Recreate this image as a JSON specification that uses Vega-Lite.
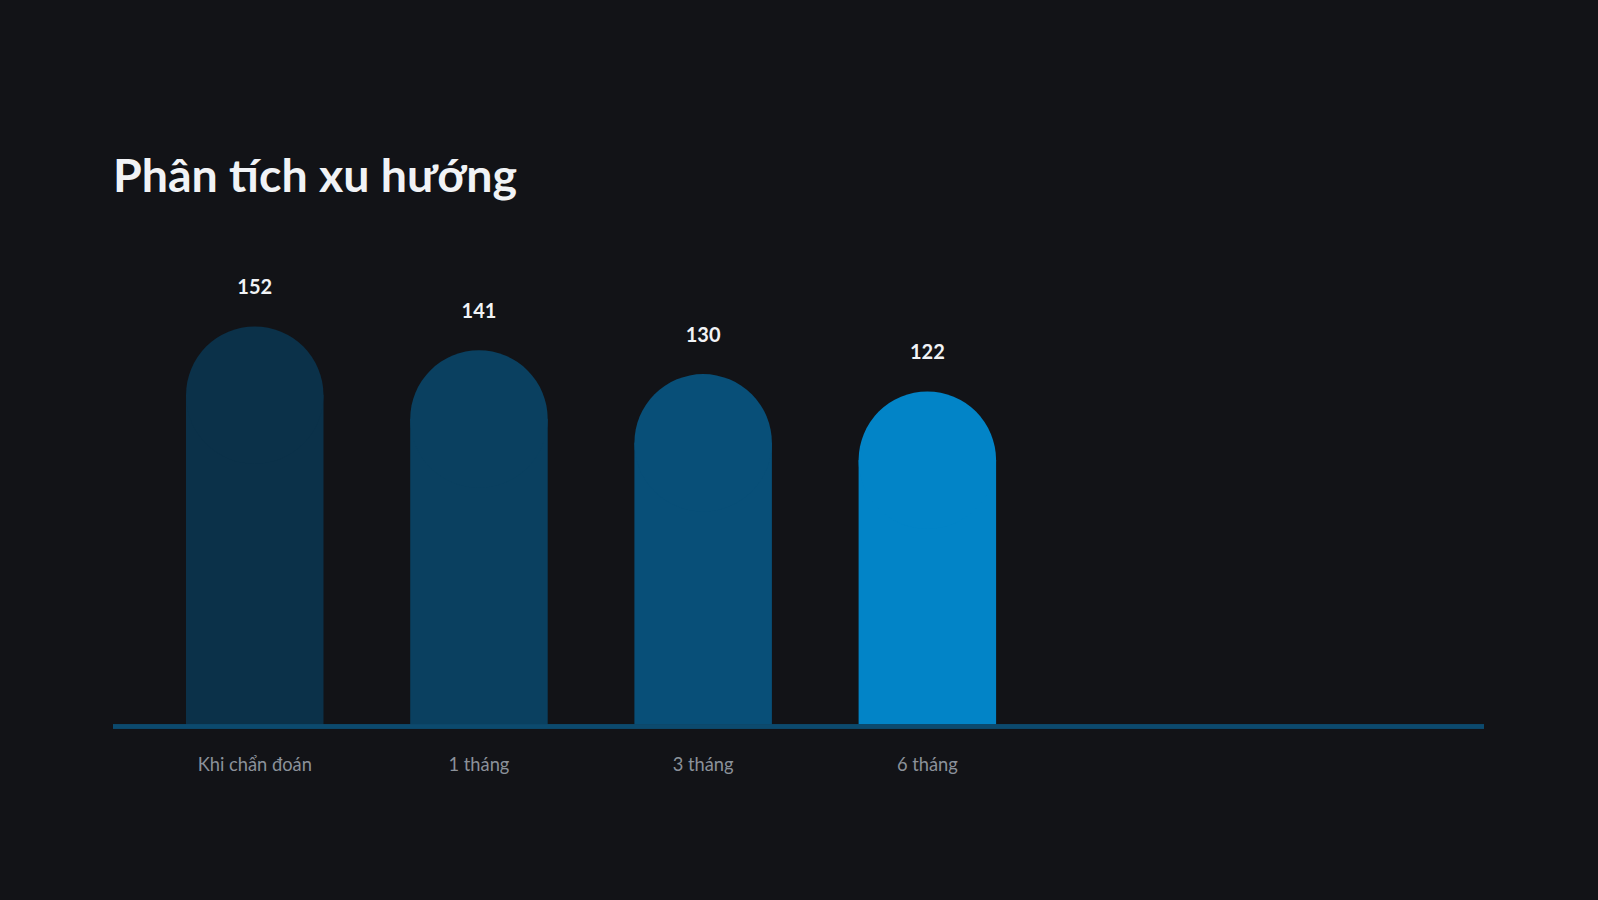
{
  "$schema": "https://vega.github.io/schema/vega-lite/v6.json",
  "autosize": {"type": "none"},
  "padding": {"left": 113, "top": 291.2, "right": 114, "bottom": 175.5},
  "width": 1371,
  "height": 433.3,
  "background": "#121317",
  "title": {
    "text": "Phân tích xu hướng",
    "anchor": "start",
    "frame": "group",
    "baseline": "alphabetic",
    "offset": 39.9,
    "font": "Lato",
    "fontSize": 46.5,
    "fontWeight": "bold",
    "color": "#f1f3f6"
  },
  "data": {
    "values": [
      {"moc": "Khi chẩn đoán", "giatri": 152},
      {"moc": "1 tháng", "giatri": 141},
      {"moc": "3 tháng", "giatri": 130},
      {"moc": "6 tháng", "giatri": 122}
    ]
  },
  "layer": [
    {
      "mark": {"type": "bar"},
      "encoding": {
        "x": {
          "field": "moc",
          "type": "nominal",
          "sort": null,
          "scale": {"range": [73, 883.1], "paddingInner": 0.3867, "paddingOuter": 0},
          "axis": {"title": null}
        },
        "y": {
          "field": "giatri",
          "type": "quantitative",
          "scale": {"domain": [0, 200], "nice": false},
          "axis": null
        },
        "color": {
          "field": "moc",
          "type": "nominal",
          "scale": {
            "domain": ["Khi chẩn đoán", "1 tháng", "3 tháng", "6 tháng"],
            "range": ["#0b3149", "#0a4060", "#084f78", "#0284c7"]
          },
          "legend": null
        }
      }
    },
    {
      "mark": {"type": "point", "shape": "circle", "filled": true, "opacity": 1, "size": 18906},
      "encoding": {
        "x": {"field": "moc", "type": "nominal", "sort": null},
        "y": {"field": "giatri", "type": "quantitative"},
        "color": {"field": "moc", "type": "nominal", "legend": null}
      }
    },
    {
      "mark": {"type": "text", "baseline": "alphabetic", "dy": -101, "font": "Lato", "fontSize": 20, "fontWeight": "bold", "color": "#f1f3f6"},
      "encoding": {
        "x": {"field": "moc", "type": "nominal", "sort": null},
        "y": {"field": "giatri", "type": "quantitative"},
        "text": {"field": "giatri", "type": "quantitative"}
      }
    },
    {
      "mark": {"type": "rule", "color": "#0c4a6e", "strokeWidth": 4, "yOffset": 2},
      "encoding": {"y": {"datum": 0}}
    }
  ],
  "config": {
    "view": {"stroke": null},
    "axisX": {
      "labelFont": "Lato",
      "labelFontSize": 18.3,
      "labelColor": "#8b919a",
      "labelAngle": 0,
      "labelPadding": 46,
      "labelBaseline": "alphabetic",
      "ticks": false,
      "domain": false,
      "grid": false
    }
  }
}
